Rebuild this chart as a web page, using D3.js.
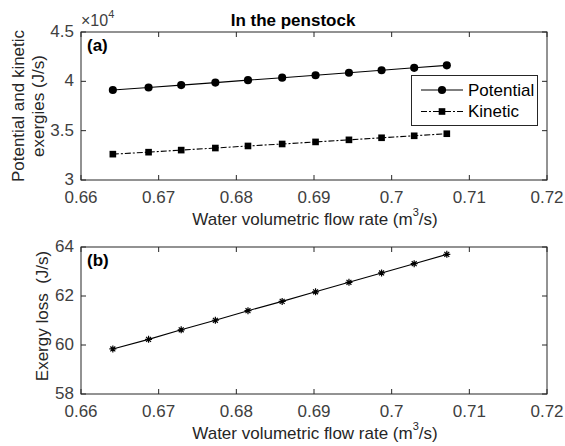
<!DOCTYPE html>
<html>
<head>
<meta charset="utf-8">
<script src="https://cdn.jsdelivr.net/npm/d3@7"></script>
<style>
  body { margin: 0; background: #fff; }
  text { font-family: "Liberation Sans", Arial, sans-serif; }
</style>
</head>
<body>
<svg id="chart" width="565" height="446"></svg>
<script>
// data
var flowRate = [0.6641, 0.6687, 0.6729, 0.6773, 0.6815, 0.6859, 0.6902, 0.6945, 0.6987, 0.7029, 0.7071];
var potential = [3.912, 3.937, 3.962, 3.987, 4.012, 4.037, 4.062, 4.087, 4.112, 4.137, 4.162];
var kinetic = [3.262, 3.282, 3.303, 3.324, 3.345, 3.365, 3.386, 3.407, 3.428, 3.448, 3.469];
var exergyLoss = [59.84, 60.23, 60.62, 61.01, 61.40, 61.78, 62.17, 62.56, 62.94, 63.32, 63.70];
var xTicks = [0.66, 0.67, 0.68, 0.69, 0.70, 0.71, 0.72];
var yTicksA = [3, 3.5, 4, 4.5];
var yTicksB = [58, 60, 62, 64];

var svg = d3.select('#chart');
var axisColor = '#262626';
var left = 81, right = 547;

function drawPanel(top, bottom, yDomain, yTicks, label) {
    var x = d3.scaleLinear().domain([0.66, 0.72]).range([left, right]);
    var y = d3.scaleLinear().domain(yDomain).range([bottom, top]);
    var g = svg.append('g');
    g.append('rect')
        .attr('x', left).attr('y', top)
        .attr('width', right - left).attr('height', bottom - top)
        .attr('fill', 'none').attr('stroke', axisColor).attr('stroke-width', 1);
    // inner ticks on all four sides
    xTicks.forEach(function (t) {
        g.append('line').attr('x1', x(t)).attr('x2', x(t)).attr('y1', bottom).attr('y2', bottom - 5).attr('stroke', axisColor);
        g.append('line').attr('x1', x(t)).attr('x2', x(t)).attr('y1', top).attr('y2', top + 5).attr('stroke', axisColor);
        g.append('text')
            .attr('x', x(t)).attr('y', bottom + 17.5)
            .attr('text-anchor', 'middle').attr('dominant-baseline', 'central')
            .attr('font-size', 17).attr('fill', '#404040')
            .text(+t.toFixed(2));
    });
    yTicks.forEach(function (t) {
        g.append('line').attr('x1', left).attr('x2', left + 5).attr('y1', y(t)).attr('y2', y(t)).attr('stroke', axisColor);
        g.append('line').attr('x1', right).attr('x2', right - 5).attr('y1', y(t)).attr('y2', y(t)).attr('stroke', axisColor);
        g.append('text')
            .attr('x', left - 7).attr('y', y(t) - 0.5)
            .attr('text-anchor', 'end').attr('dominant-baseline', 'central')
            .attr('font-size', 17).attr('fill', '#404040')
            .text(t);
    });
    g.append('text')
        .attr('x', left + 6).attr('y', top + 19)
        .attr('font-size', 17).attr('font-weight', 'bold').attr('fill', '#000')
        .text(label);
    // x label with superscript
    var xl = g.append('text')
        .attr('x', (left + right) / 2 + 1).attr('y', bottom + 39)
        .attr('text-anchor', 'middle').attr('dominant-baseline', 'central')
        .attr('font-size', 17).attr('fill', '#262626');
    xl.append('tspan').text('Water volumetric flow rate (m');
    xl.append('tspan').attr('font-size', 11).attr('dy', -7).text('3');
    xl.append('tspan').attr('dy', 7).text('/s)');
    return { x: x, y: y, g: g };
}

var a = drawPanel(32, 180, [3, 4.5], yTicksA, '(a)');
var b = drawPanel(247, 394, [58, 64], yTicksB, '(b)');

// title and exponent
svg.append('text')
    .attr('x', 293).attr('y', 20)
    .attr('text-anchor', 'middle').attr('dominant-baseline', 'central')
    .attr('font-size', 17).attr('font-weight', 'bold').attr('fill', '#000')
    .text('In the penstock');
var ex = svg.append('text')
    .attr('x', 81).attr('y', 26)
    .attr('font-size', 16).attr('fill', '#404040');
ex.append('tspan').text('\u00d710');
ex.append('tspan').attr('font-size', 11).attr('dy', -8).text('4');

// y labels
var ylA = svg.append('text')
    .attr('transform', 'translate(18,106) rotate(-90)')
    .attr('text-anchor', 'middle').attr('dominant-baseline', 'central')
    .attr('font-size', 17).attr('fill', '#262626');
ylA.append('tspan').attr('x', 0).attr('dy', 0).text('Potential and kinetic');
ylA.append('tspan').attr('x', 0).attr('dy', 20).text('exergies (J/s)');
svg.append('text')
    .attr('transform', 'translate(42,316) rotate(-90)')
    .attr('text-anchor', 'middle').attr('dominant-baseline', 'central')
    .attr('font-size', 17).attr('fill', '#262626')
    .style('white-space', 'pre')
    .text('Exergy loss  (J/s)');

// series
function drawLine(panel, ys, dash) {
    var line = d3.line()
        .x(function (d, i) { return panel.x(flowRate[i]); })
        .y(function (d) { return panel.y(d); });
    panel.g.append('path').datum(ys)
        .attr('d', line).attr('fill', 'none')
        .attr('stroke', '#000').attr('stroke-width', 1.1)
        .attr('stroke-dasharray', dash || null);
}
drawLine(a, potential);
drawLine(a, kinetic, '6,2,2,2');
drawLine(b, exergyLoss);

var circle = d3.symbol().type(d3.symbolCircle).size(52);
var square = d3.symbol().type(d3.symbolSquare).size(44);
function star(s) {
    var d = s * 0.7;
    return 'M' + (-s) + ',0L' + s + ',0M0,' + (-s) + 'L0,' + s +
        'M' + (-d) + ',' + (-d) + 'L' + d + ',' + d + 'M' + (-d) + ',' + d + 'L' + d + ',' + (-d);
}
a.g.selectAll('.pot').data(potential).enter().append('path')
    .attr('d', circle).attr('fill', '#000')
    .attr('transform', function (d, i) { return 'translate(' + a.x(flowRate[i]) + ',' + a.y(d) + ')'; });
a.g.selectAll('.kin').data(kinetic).enter().append('path')
    .attr('d', square).attr('fill', '#000')
    .attr('transform', function (d, i) { return 'translate(' + a.x(flowRate[i]) + ',' + a.y(d) + ')'; });
b.g.selectAll('.loss').data(exergyLoss).enter().append('path')
    .attr('d', star(3.5)).attr('fill', 'none').attr('stroke', '#000').attr('stroke-width', 1.2)
    .attr('transform', function (d, i) { return 'translate(' + b.x(flowRate[i]) + ',' + b.y(d) + ')'; });

// legend
var lg = svg.append('g');
lg.append('rect').attr('x', 411.5).attr('y', 75.5).attr('width', 126).attr('height', 50)
    .attr('fill', '#fff').attr('stroke', axisColor);
var rows = [{ name: 'Potential', y: 90, dash: null, sym: circle },
            { name: 'Kinetic', y: 111.5, dash: '6,2,2,2', sym: square }];
rows.forEach(function (r) {
    lg.append('line').attr('x1', 421).attr('x2', 463).attr('y1', r.y).attr('y2', r.y)
        .attr('stroke', '#000').attr('stroke-width', 1.1).attr('stroke-dasharray', r.dash);
    lg.append('path').attr('d', r.sym).attr('fill', '#000').attr('transform', 'translate(442,' + r.y + ')');
    lg.append('text').attr('x', 468).attr('y', r.y)
        .attr('dominant-baseline', 'central').attr('font-size', 17).attr('fill', '#000')
        .text(r.name);
});
</script>
</body>
</html>
